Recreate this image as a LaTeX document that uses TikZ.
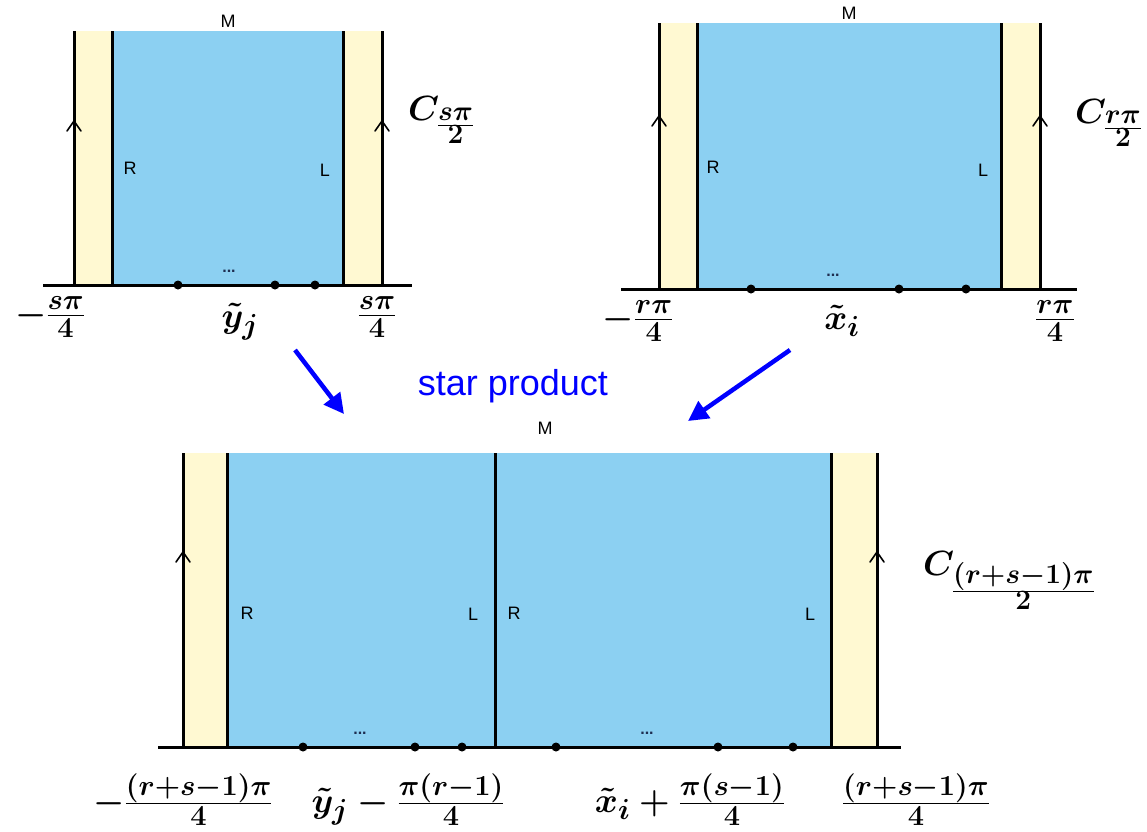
\RequirePackage{fix-cm}
\documentclass[tikz,border=0pt]{standalone}
\usepackage{fontspec}
\newfontfamily\arialfont{Liberation Sans}
\usetikzlibrary{arrows.meta}
\DeclareMathSizes{35}{35}{29}{28}
\definecolor{stripblue}{RGB}{140,208,242}
\definecolor{cream}{RGB}{255,249,210}
\definecolor{arrowblue}{RGB}{0,0,255}
\definecolor{ellipcol}{RGB}{30,45,80}
\tikzset{
  wall/.style={line width=3pt, black},
  axisline/.style={line width=3pt, black},
  chev/.style={line width=1.6pt, black, line cap=round},
  dotmark/.style={circle, fill=black, inner sep=0pt, minimum size=9pt},
  sidelab/.style={font=\fontsize{18}{20}\arialfont, inner sep=0pt},
  ellip/.style={font=\fontsize{16}{18}\arialfont\bfseries, text=ellipcol, inner sep=0pt, anchor=base},
  mlab/.style={font=\fontsize{35}{42}\selectfont\boldmath, inner sep=0pt, anchor=base},
  starlab/.style={font=\fontsize{36}{40}\arialfont, text=arrowblue, inner sep=0pt, anchor=base},
  bluearrow/.style={line width=4.5pt, arrowblue, -{Triangle[length=20pt,width=20pt]}},
}
\begin{document}
\begin{tikzpicture}[x=1pt,y=-1pt]
\useasboundingbox (0,0) rectangle (1147,831);

% ---------------- top-left panel ----------------
\fill[cream] (74,31) rectangle (112,285) (343,31) rectangle (382,285);
\fill[stripblue] (112,31) rectangle (343,285);
\foreach \x in {74,112,343,382} \draw[wall] (\x,31) -- (\x,285);
\draw[axisline] (43,285) -- (412,285);
\node[dotmark] (tl1) at (178,285) {};
\node[dotmark] (tl2) at (275,285) {};
\node[dotmark] (tl3) at (315,285) {};
\draw[chev] (67,131) -- (74,121) -- (81,131);
\draw[chev] (375,131) -- (382,121) -- (389,131);
\node[sidelab] (tlM) at (228,21) {M};
\node[sidelab] (tlR) at (130,168) {R};
\node[sidelab] (tlL) at (325,170) {L};
\node[ellip] (tlE) at (229,272) {...};
\node[mlab] (tla) at (50,324) {$-\frac{s\pi}{4}$};
\node[mlab] (tlb) at (240,327) {$\tilde{y}_j$};
\node[mlab] (tlc) at (377,324) {$\frac{s\pi}{4}$};
\node[mlab, anchor=base west] (tlC) at (408,120) {$C_{\frac{s\pi}{2}}$};

% ---------------- top-right panel ----------------
\fill[cream] (659,23) rectangle (697,289) (1001,23) rectangle (1040,289);
\fill[stripblue] (697,23) rectangle (1001,289);
\foreach \x in {659,697,1001,1040} \draw[wall] (\x,23) -- (\x,289);
\draw[axisline] (621,289) -- (1077,289);
\node[dotmark] (tr1) at (751,289) {};
\node[dotmark] (tr2) at (899,289) {};
\node[dotmark] (tr3) at (966,289) {};
\draw[chev] (652,126) -- (659,116) -- (666,126);
\draw[chev] (1033,126) -- (1040,116) -- (1047,126);
\node[sidelab] (trM) at (849,13) {M};
\node[sidelab] (trR) at (713,167) {R};
\node[sidelab] (trL) at (983,170) {L};
\node[ellip] (trE) at (833,276) {...};
\node[mlab] (tra) at (638,328) {$-\frac{r\pi}{4}$};
\node[mlab] (trb) at (842,329) {$\tilde{x}_i$};
\node[mlab] (trc) at (1055,328) {$\frac{r\pi}{4}$};
\node[mlab, anchor=base west] (trC) at (1075,123) {$C_{\frac{r\pi}{2}}$};

% ---------------- star product ----------------
\node[starlab] (star) at (513,395) {star product};
\coordinate (la0) at (295,350);
\coordinate (la1) at (344,414);
\coordinate (ra0) at (790,350);
\coordinate (ra1) at (688,421);
\draw[bluearrow] (la0) -- (la1);
\draw[bluearrow] (ra0) -- (ra1);

% ---------------- bottom panel ----------------
\fill[cream] (183,453) rectangle (227,747) (831,453) rectangle (877,747);
\fill[stripblue] (227,453) rectangle (831,747);
\foreach \x in {183,227,495,831,877} \draw[wall] (\x,453) -- (\x,747);
\draw[axisline] (158,747) -- (901,747);
\node[dotmark] (b1) at (303,747) {};
\node[dotmark] (b2) at (415,747) {};
\node[dotmark] (b3) at (462,747) {};
\node[dotmark] (b4) at (556,747) {};
\node[dotmark] (b5) at (718,747) {};
\node[dotmark] (b6) at (793,747) {};
\draw[chev] (176,562) -- (183,552) -- (190,562);
\draw[chev] (870,562) -- (877,552) -- (884,562);
\node[sidelab] (bM) at (545,428) {M};
\node[sidelab] (bR1) at (247,613) {R};
\node[sidelab] (bL1) at (473,614) {L};
\node[sidelab] (bR2) at (514,613) {R};
\node[sidelab] (bL2) at (810,614) {L};
\node[ellip] (bE1) at (360,734) {...};
\node[ellip] (bE2) at (647,734) {...};
\node[mlab] (ba) at (183,812) {$-\frac{(r+s-1)\pi}{4}$};
\node[mlab] (bb) at (408,812) {$\tilde{y}_j-\frac{\pi(r-1)}{4}$};
\node[mlab] (bc) at (690,812) {$\tilde{x}_i+\frac{\pi(s-1)}{4}$};
\node[mlab] (bd) at (916,812) {$\frac{(r+s-1)\pi}{4}$};
\node[mlab, anchor=base west] (bC) at (923,575) {$C_{\frac{(r+s-1)\pi}{2}}$};
\end{tikzpicture}
\end{document}
